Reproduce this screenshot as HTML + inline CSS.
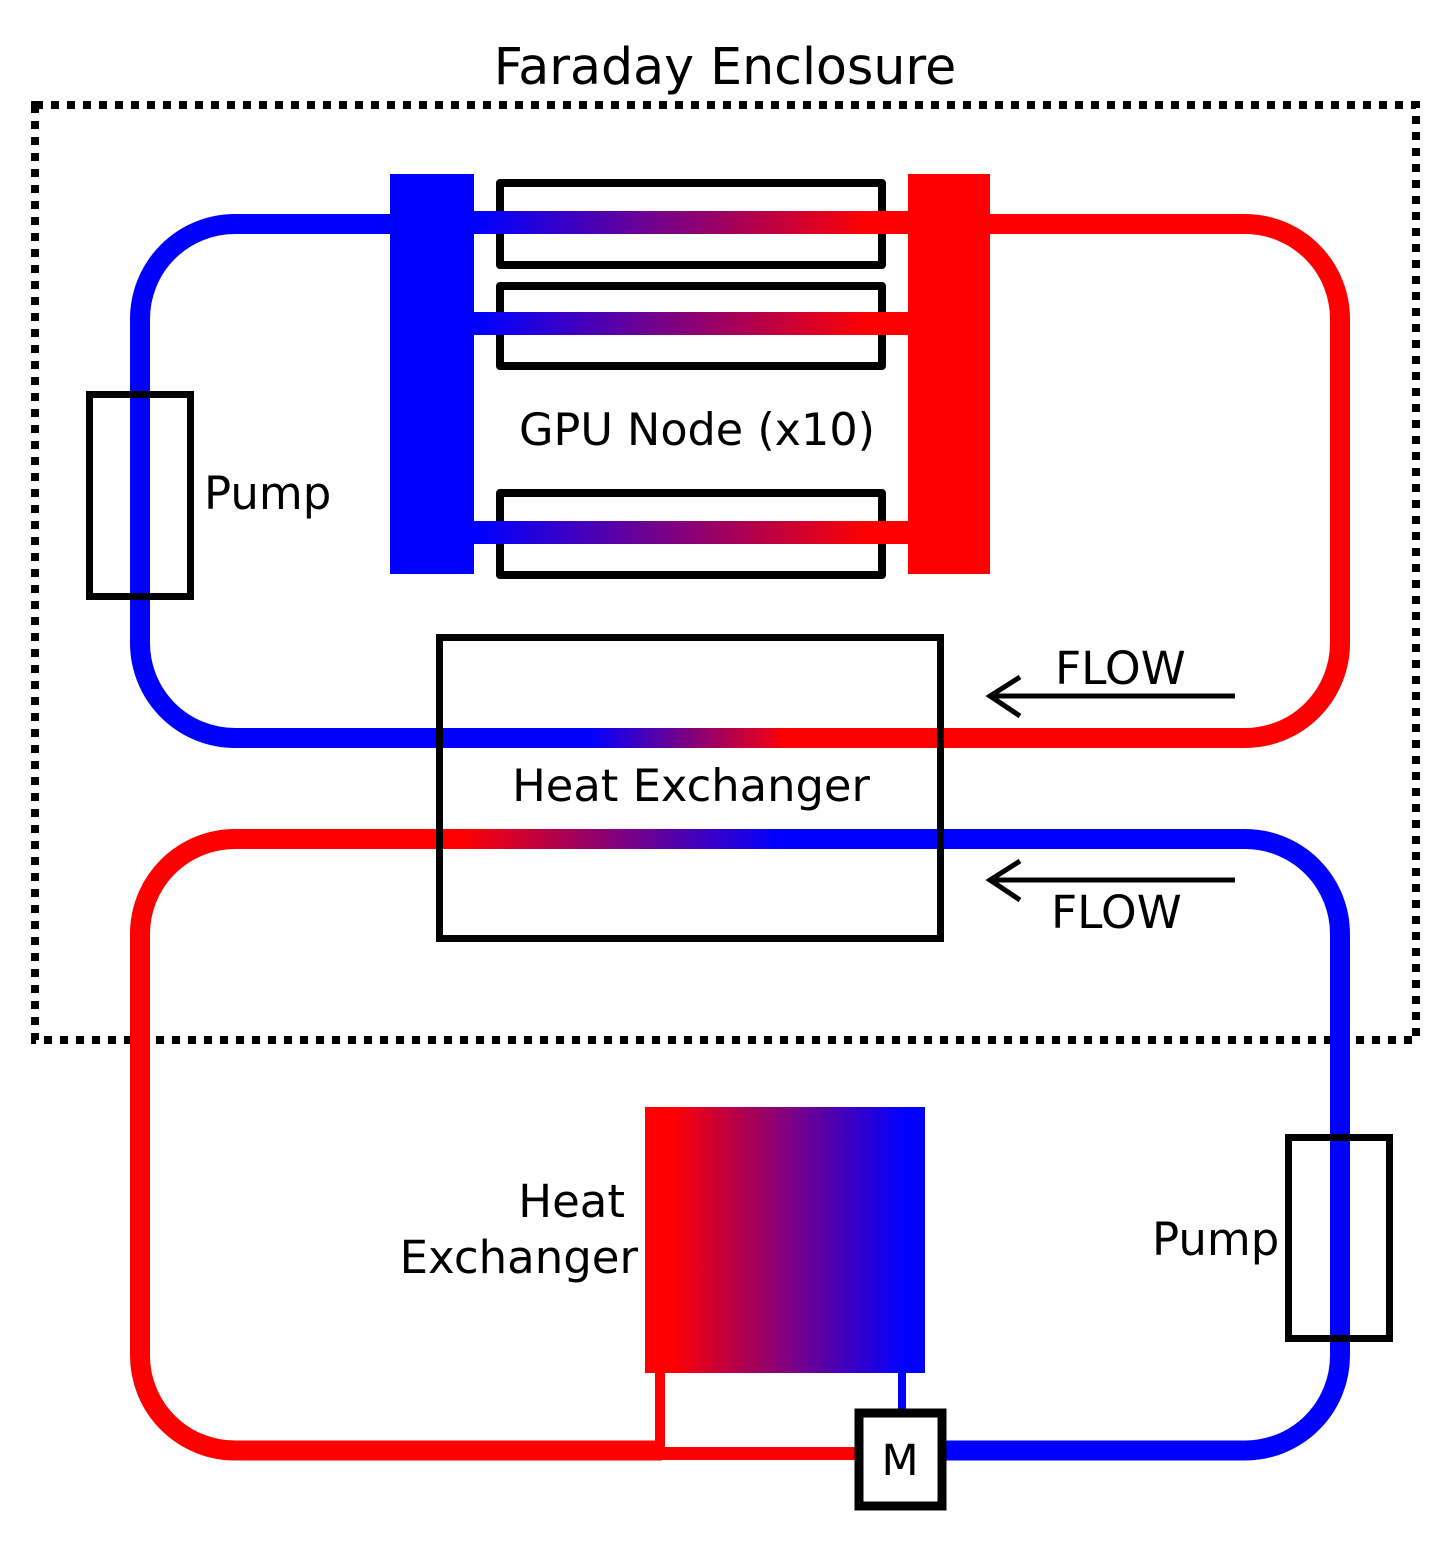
<!DOCTYPE html>
<html><head><meta charset="utf-8"><style>html,body{margin:0;padding:0;background:#fff}svg{display:block}text{font-family:"DejaVu Sans","Liberation Sans",sans-serif;fill:#000}</style></head>
<body>
<svg width="1455" height="1545" viewBox="0 0 1455 1545" xmlns="http://www.w3.org/2000/svg">
<defs>
<linearGradient id="gn" gradientUnits="userSpaceOnUse" x1="480" y1="0" x2="870" y2="0"><stop offset="0" stop-color="#00f"/><stop offset="1" stop-color="#f00"/></linearGradient>
<linearGradient id="g1" gradientUnits="userSpaceOnUse" x1="590" y1="0" x2="790" y2="0"><stop offset="0" stop-color="#00f"/><stop offset="1" stop-color="#f00"/></linearGradient>
<linearGradient id="g2" gradientUnits="userSpaceOnUse" x1="460" y1="0" x2="780" y2="0"><stop offset="0" stop-color="#f00"/><stop offset="1" stop-color="#00f"/></linearGradient>
<linearGradient id="gh" gradientUnits="userSpaceOnUse" x1="670" y1="0" x2="905" y2="0"><stop offset="0" stop-color="#f00"/><stop offset="1" stop-color="#00f"/></linearGradient>
</defs>
<text x="725" y="84" font-size="50.6" text-anchor="middle">Faraday Enclosure</text>
<rect x="35" y="105" width="1381" height="935" fill="none" stroke="#000" stroke-width="8" stroke-dasharray="8 8"/>
<g fill="none" stroke-width="20">
<path d="M392,224 H235 A95,95 0 0 0 140,319 V643 A95,95 0 0 0 235,738 H600" stroke="#00f"/>
<path d="M590,738 H790" stroke="url(#g1)"/>
<path d="M780,738 H1245 A95,95 0 0 0 1340,643 V319 A95,95 0 0 0 1245,224 H988" stroke="#f00"/>
<path d="M470,839 H235 A95,95 0 0 0 140,934 V1355 A95,95 0 0 0 235,1450.5 H662" stroke="#f00"/>
<path d="M460,839 H780" stroke="url(#g2)"/>
<path d="M770,839 H1245 A95,95 0 0 1 1340,934 V1355 A95,95 0 0 1 1245,1450.5 H940" stroke="#00f"/>
</g>
<path d="M655,1453.5 H860" stroke="#f00" stroke-width="13"/>
<path d="M660,1370 V1450" stroke="#f00" stroke-width="10"/>
<path d="M902,1370 V1413" stroke="#00f" stroke-width="8"/>
<g fill="none" stroke="#000" stroke-width="8" stroke-linejoin="round">
<rect x="500" y="183" width="382" height="82"/>
<rect x="500" y="286" width="382" height="80"/>
<rect x="500" y="493" width="382" height="82"/>
</g>
<rect x="474" y="211" width="434" height="23" fill="url(#gn)"/>
<rect x="474" y="312" width="434" height="23" fill="url(#gn)"/>
<rect x="474" y="521" width="434" height="23" fill="url(#gn)"/>
<rect x="390" y="174" width="84" height="400" fill="#00f"/>
<rect x="908" y="174" width="82" height="400" fill="#f00"/>
<text x="697" y="445" font-size="44.5" text-anchor="middle">GPU Node (x10)</text>
<rect x="89.5" y="394.5" width="101" height="202" fill="none" stroke="#000" stroke-width="7"/>
<text x="204" y="509" font-size="45">Pump</text>
<rect x="439.5" y="637.5" width="501" height="301" fill="none" stroke="#000" stroke-width="7"/>
<text x="691" y="801" font-size="44.8" text-anchor="middle">Heat Exchanger</text>
<g stroke="#000" stroke-width="5" fill="none">
<path d="M990,696 H1235 M1020,677 L990,696 L1020,716"/>
<path d="M990,880 H1235 M1020,861 L990,880 L1020,900"/>
</g>
<text x="1055" y="684" font-size="45.5">FLOW</text>
<text x="1051" y="928" font-size="45.5">FLOW</text>
<rect x="645" y="1107" width="280" height="266" fill="url(#gh)"/>
<text x="625" y="1217" font-size="45" text-anchor="end">Heat</text>
<text x="638" y="1273" font-size="45" text-anchor="end">Exchanger</text>
<rect x="1288.5" y="1137.5" width="101" height="201" fill="none" stroke="#000" stroke-width="7"/>
<text x="1152" y="1255" font-size="45">Pump</text>
<rect x="859" y="1413" width="83" height="93" fill="#fff" stroke="#000" stroke-width="9"/>
<text x="900" y="1475" font-size="43" text-anchor="middle">M</text>
</svg>
</body></html>
